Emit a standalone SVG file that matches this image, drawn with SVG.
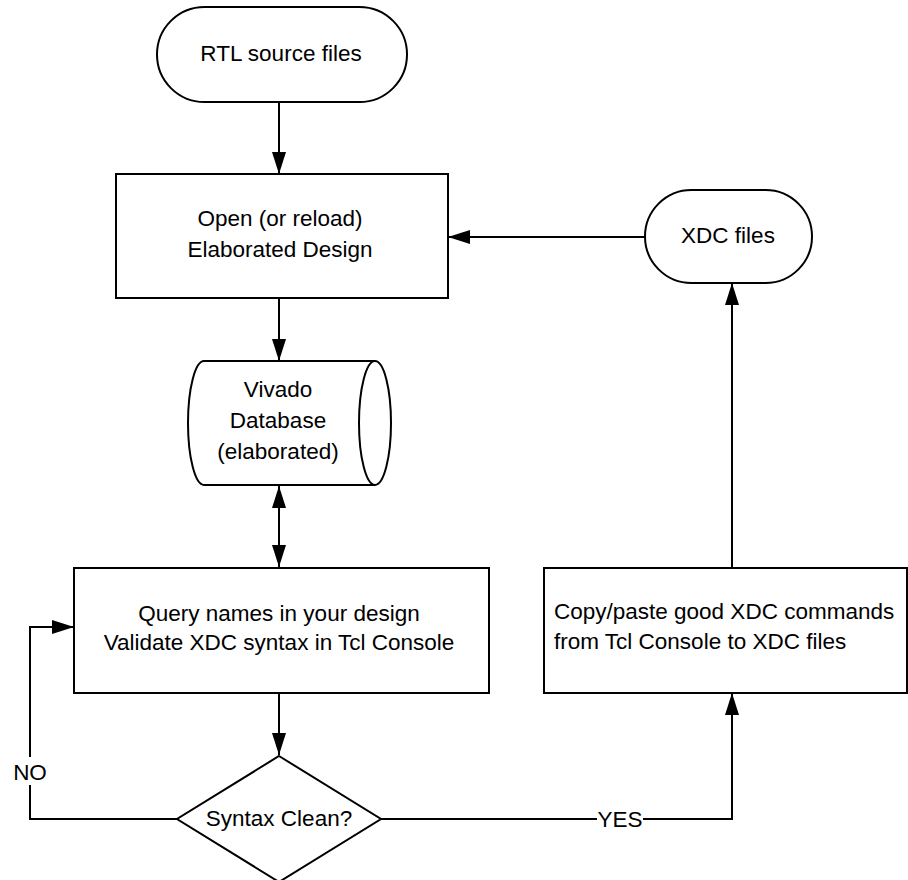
<svg xmlns="http://www.w3.org/2000/svg" width="908" height="880" viewBox="0 0 908 880">
<style>
.s{fill:#fff;stroke:#000;stroke-width:2}
.c{fill:none;stroke:#000;stroke-width:2}
text{font-family:"Liberation Sans",Arial,Helvetica,sans-serif;font-size:22.5px;fill:#000}
.m{text-anchor:middle}
</style>
<defs>
<marker id="ah" markerUnits="userSpaceOnUse" markerWidth="24" markerHeight="14" refX="22" refY="7" orient="auto-start-reverse">
<path d="M0,0 L22,7 L0,14 Z" fill="#000"/>
</marker>
</defs>
<rect width="908" height="880" fill="#fff"/>
<g id="connectors">
<line class="c" x1="279" y1="102" x2="279" y2="174" marker-end="url(#ah)"/>
<line class="c" x1="279" y1="298" x2="279" y2="361" marker-end="url(#ah)"/>
<line class="c" x1="279" y1="486" x2="279" y2="567" marker-start="url(#ah)" marker-end="url(#ah)"/>
<line class="c" x1="279" y1="693" x2="279" y2="755" marker-end="url(#ah)"/>
<polyline class="c" points="177,819 30,819 30,627 74,627" marker-end="url(#ah)"/>
<polyline class="c" points="381,819 732,819 732,693" marker-end="url(#ah)"/>
<line class="c" x1="732" y1="568" x2="732" y2="283" marker-end="url(#ah)"/>
<line class="c" x1="645" y1="237" x2="448" y2="237" marker-end="url(#ah)"/>
<rect x="12" y="757" width="36" height="28" fill="#fff"/>
<text x="30" y="780" class="m">NO</text>
<rect x="597" y="806" width="46" height="26" fill="#fff"/>
<text x="620" y="827" class="m">YES</text>
</g>
<g id="rtl">
<rect class="s" x="157" y="7" width="250" height="95" rx="47.5" ry="47.5"/>
<text x="281" y="61" class="m">RTL source files</text>
</g>
<g id="open">
<rect class="s" x="116" y="174" width="332" height="124"/>
<text x="280" y="226" class="m">Open (or reload)</text>
<text x="280" y="257" class="m">Elaborated Design</text>
</g>
<g id="xdc">
<rect class="s" x="645" y="190" width="167" height="93" rx="46.5" ry="46.5"/>
<text x="728" y="243" class="m">XDC files</text>
</g>
<g id="db">
<path class="s" d="M204,361 H375 A16,62 0 0 1 375,485 H204 A16,62 0 0 1 204,361 Z"/>
<path class="c" d="M375,361 A16,62 0 0 0 375,485"/>
<text x="278" y="397" class="m">Vivado</text>
<text x="278" y="428" class="m">Database</text>
<text x="278" y="459" class="m">(elaborated)</text>
</g>
<g id="query">
<rect class="s" x="74" y="568" width="415" height="125"/>
<text x="279" y="621" class="m">Query names in your design</text>
<text x="279" y="650" class="m">Validate XDC syntax in Tcl Console</text>
</g>
<g id="copy">
<rect class="s" x="544" y="568" width="363" height="125"/>
<text x="554" y="619">Copy/paste good XDC commands</text>
<text x="554" y="649">from Tcl Console to XDC files</text>
</g>
<g id="decision">
<polygon class="s" points="279,756 381,819 279,882 177,819"/>
<text x="279" y="826" class="m">Syntax Clean?</text>
</g>
</svg>
